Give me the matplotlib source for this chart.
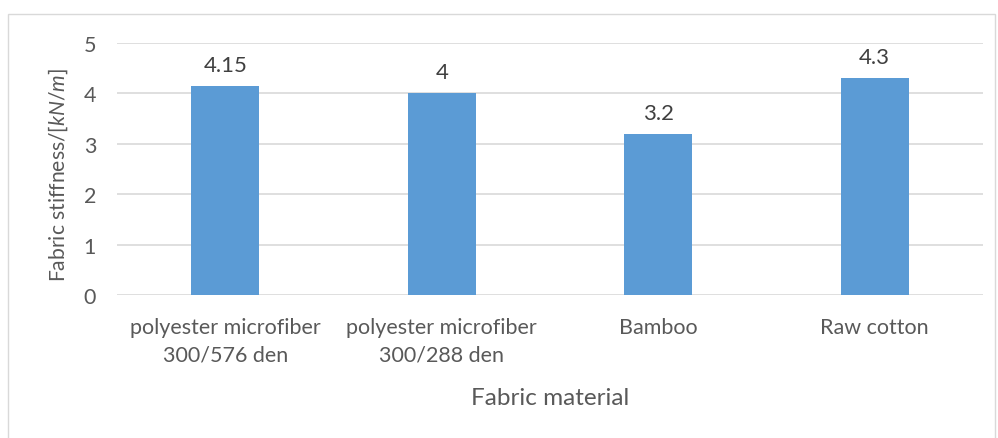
import matplotlib.pyplot as plt
from matplotlib.patches import Rectangle

plt.rcParams.update({
    "font.family": ["Lato", "DejaVu Sans"],
    "mathtext.fontset": "custom",
    "mathtext.rm": "Lato",
    "mathtext.it": "Lato:italic",
})

# data
materials = ["polyester microfiber\n300/576 den", "polyester microfiber\n300/288 den",
             "Bamboo", "Raw cotton"]
stiffness = [4.15, 4.0, 3.2, 4.3]
value_labels = ["4.15", "4", "3.2", "4.3"]

fig = plt.figure(figsize=(9.98, 4.39), dpi=100)
ax = fig.add_axes([117 / 998, 1 - 296 / 439, 866 / 998, 252 / 439])

# outer chart border
fig.patches.append(Rectangle((8 / 998, -0.02), 987 / 998, 1 - 15 / 439 + 0.02,
                             transform=fig.transFigure, fill=False,
                             edgecolor="#D9D9D9", linewidth=1))

x = range(len(materials))
bars = ax.bar(x, stiffness, width=0.314, color="#5B9BD5", zorder=3)

for b, lab in zip(bars, value_labels):
    ax.annotate(lab, (b.get_x() + b.get_width() / 2, b.get_height()),
                xytext=(0, 8), textcoords="offset points",
                ha="center", va="bottom", fontsize=16, color="#404040")

ax.set_xlim(-0.5, len(materials) - 0.5)
ax.set_ylim(0, 5)
ax.set_yticks(range(6))
ax.grid(axis="y", color="#D9D9D9", linewidth=1.2, zorder=0)
for s in ax.spines.values():
    s.set_visible(False)
ax.tick_params(length=0, labelsize=15.5, colors="#595959")
ax.tick_params(axis="y", pad=15)
ax.tick_params(axis="x", pad=16)
ax.set_xticks(list(x))
ax.set_xticklabels(materials, linespacing=1.45)

ax.set_xlabel("Fabric material", fontsize=17.5, color="#595959")
ax.xaxis.set_label_coords(0.5, -0.365)
ax.xaxis.label.set_va("top")
ax.set_ylabel(r"Fabric stiffness/$\mathit{[kN/m]}$", fontsize=15.2, color="#595959")
ax.yaxis.label.set(rotation_mode="default", va="center", ha="center")
ax.yaxis.set_label_coords(-0.0675, 0.48)

fig.savefig("out.png")
